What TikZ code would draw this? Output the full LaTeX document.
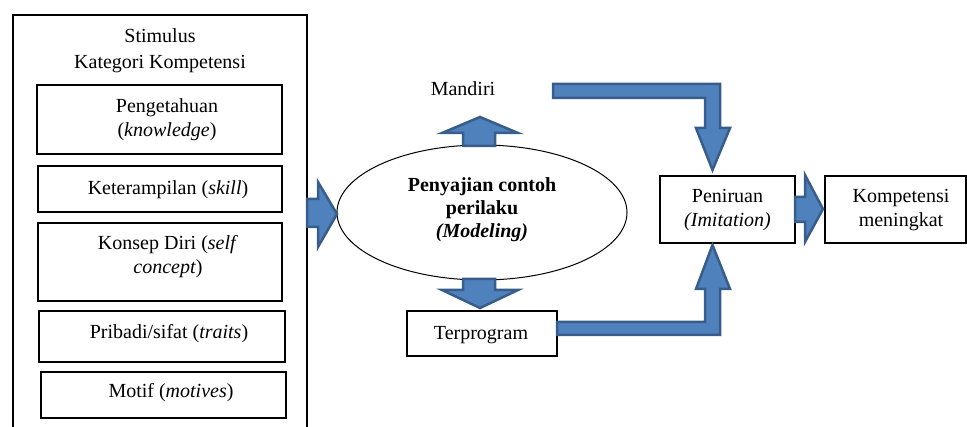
\documentclass[tikz,border=0pt]{standalone}
\usepackage{fontspec}
\setmainfont{Liberation Serif}
\usetikzlibrary{shapes.geometric}
\definecolor{arrfill}{RGB}{79,129,189}
\definecolor{arrline}{RGB}{56,93,138}
\begin{document}
\begin{tikzpicture}[x=1pt,y=-1pt,
  box/.style={draw, line width=1.6pt, inner sep=0pt, outer sep=0pt},
  txt/.style={font=\fontsize{20}{24}\selectfont, align=center, inner sep=0pt},
  btxt/.style={font=\fontsize{20}{23}\selectfont\bfseries, align=center, inner sep=0pt},
  blk/.style={fill=arrfill, draw=arrline, line width=2.5pt, line join=miter}]
\useasboundingbox (0,0) rectangle (967,427);
% outer frame
\draw[line width=1.8pt] (13,428) -- (13,15) -- (307,15) -- (307,428);
\node[txt, font=\fontsize{20}{26}\selectfont] (stim) at (160,51) {Stimulus\\Kategori Kompetensi};
% inner boxes
\node[box, minimum width=245, minimum height=69] (b1) at (159.5,119.5) {};
\node[txt] (t1) at (167,119.5) {Pengetahuan\\(\textit{knowledge})};
\node[box, minimum width=244, minimum height=46] (b2) at (160,189) {};
\node[txt] (t2) at (168,189.5) {Keterampilan (\textit{skill})};
\node[box, minimum width=244, minimum height=78] (b3) at (160,262) {};
\node[txt] (t3) at (168,256.5) {Konsep Diri (\textit{self}\\\textit{concept})};
\node[box, minimum width=246, minimum height=51] (b4) at (162,336.5) {};
\node[txt] (t4) at (169,333.5) {Pribadi/sifat (\textit{traits})};
\node[box, minimum width=245, minimum height=46] (b5) at (163.5,395) {};
\node[txt] (t5) at (171,393) {Motif (\textit{motives})};
% ellipse
\node[ellipse, draw, line width=1pt, minimum width=290, minimum height=135, inner sep=0pt] (ell) at (482,212.5) {};
\node[btxt] (et) at (482,210) {Penyajian contoh\\perilaku\\\textit{(Modeling)}};
% Mandiri
\node[txt] (mand) at (463,89) {Mandiri};
% Terprogram
\node[box, minimum width=150, minimum height=45] (terp) at (482,333.5) {};
\node[txt] (tt) at (481,335) {Terprogram};
% Peniruan
\node[box, minimum width=135, minimum height=67] (pen) at (727.5,209.5) {};
\node[txt] (pt) at (727.5,210.5) {Peniruan\\\textit{(Imitation)}};
% Kompetensi
\node[box, minimum width=141, minimum height=67] (komp) at (895.5,209.5) {};
\node[txt] (kt) at (901,210.5) {Kompetensi\\meningkat};
% block arrows
\draw[blk] (307,199) -- (318,199) -- (318,182) -- (337,214) -- (318,247) -- (318,227) -- (307,227) -- cycle;
\draw[blk] (463,146) -- (463,133) -- (442,133) -- (480,117) -- (518,133) -- (495,133) -- (495,146) -- cycle;
\draw[blk] (463,279) -- (463,290) -- (442,290) -- (480,308) -- (518,290) -- (495,290) -- (495,279) -- cycle;
\draw[blk] (553,84) -- (720,84) -- (720,128) -- (730,128) -- (712.5,170) -- (696,128) -- (705,128) -- (705,98) -- (553,98) -- cycle;
\draw[blk] (557,335) -- (720,335) -- (720,289) -- (730,289) -- (712.5,245) -- (696,289) -- (705,289) -- (705,322) -- (557,322) -- cycle;
\draw[blk] (795,197) -- (805,197) -- (805,175) -- (823,209) -- (805,242) -- (805,222) -- (795,222) -- cycle;
\end{tikzpicture}
\end{document}
